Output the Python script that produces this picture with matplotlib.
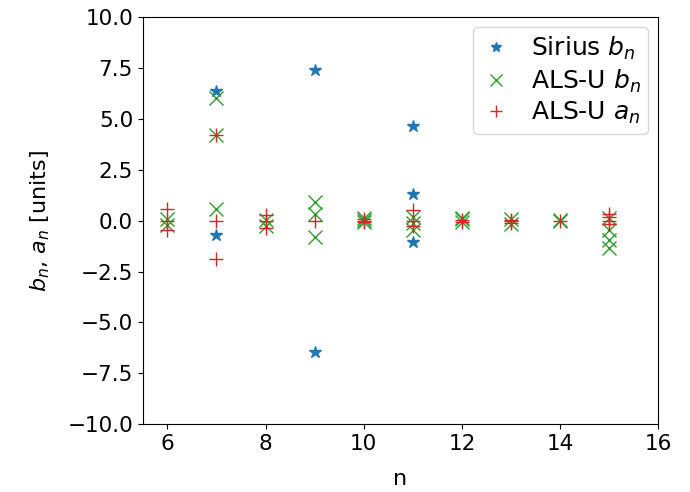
import matplotlib
matplotlib.use("Agg")
import matplotlib.pyplot as plt

# Sirius b_n
sirius_n = [7, 7, 9, 9, 11, 11, 11]
sirius_bn = [6.35, -0.7, 7.4, -6.45, 4.65, 1.3, -1.05]

# ALS-U b_n
alsu_b_n = [6, 6,
            7, 7, 7,
            8, 8,
            9, 9, 9,
            10, 10, 10,
            11, 11, 11,
            12, 12, 12,
            13, 13,
            14, 14,
            15, 15, 15, 15]
alsu_bn = [0.1, -0.2,
           6.05, 4.2, 0.55,
           0.05, -0.25,
           0.9, 0.35, -0.8,
           0.15, 0.05, -0.05,
           0.2, -0.1, -0.45,
           0.15, 0.1, -0.05,
           0.1, -0.15,
           0.05, 0.0,
           0.15, -0.45, -0.95, -1.35]

# ALS-U a_n
alsu_a_n = [6, 6, 6,
            7, 7, 7,
            8, 8, 8,
            9,
            10, 10, 10,
            11, 11, 11,
            12, 12,
            13, 13, 13,
            14,
            15, 15, 15, 15]
alsu_an = [0.55, 0.0, -0.48,
           4.2, 0.0, -1.9,
           0.28, 0.0, -0.36,
           0.0,
           0.08, 0.0, -0.08,
           0.5, 0.0, -0.25,
           0.05, -0.05,
           0.05, 0.0, -0.1,
           0.0,
           0.33, 0.16, 0.0, -0.16]

plt.rcParams['font.size'] = 15.5
fig = plt.figure(figsize=(6.9, 4.92), dpi=100)
ax = fig.add_axes([0.207, 0.138, 0.747, 0.827])

ax.plot(sirius_n, sirius_bn, '*', color='C0', ms=9, label='Sirius $b_n$')
ax.plot(alsu_b_n, alsu_bn, 'x', color='C2', ms=10, label='ALS-U $b_n$')
ax.plot(alsu_a_n, alsu_an, '+', color='C3', ms=10, label='ALS-U $a_n$')

ax.set_xlim(5.5, 16)
ax.set_ylim(-10, 10)
ax.set_xticks([6, 8, 10, 12, 14, 16])
ax.set_yticks([-10, -7.5, -5, -2.5, 0, 2.5, 5, 7.5, 10])
ax.set_xlabel('n', fontsize=16, labelpad=11)
ax.set_ylabel('$b_n$, $a_n$ [units]', fontsize=16, labelpad=11)
ax.legend(loc='upper right', fontsize=18, handlelength=1.2, labelspacing=0.22,
          markerscale=0.8, borderpad=0.3, borderaxespad=0.4)

fig.savefig('out.png', dpi=100)
